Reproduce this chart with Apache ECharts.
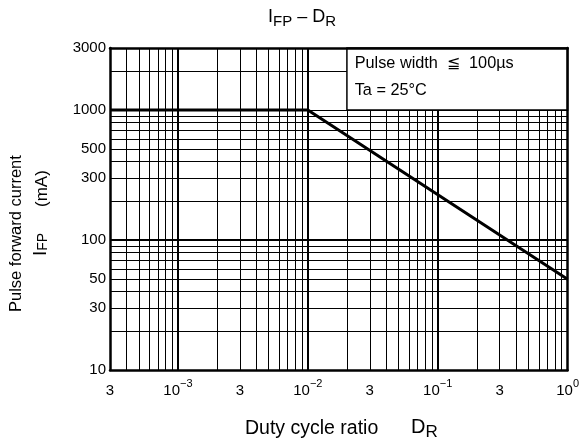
<!DOCTYPE html>
<html><head><meta charset="utf-8">
<script src="https://cdn.jsdelivr.net/npm/echarts@6/dist/echarts.min.js"></script>
<style>html,body{margin:0;padding:0;background:#fff}#c{width:582px;height:445px}</style>
</head><body><div id="c"></div>
<script>
// ---- data ----
const dutyRatio = [0.0003, 0.01, 1];
const pulseCurrent = [1000, 1000, 50];

const xTickValues = [0.0003, 0.001, 0.003, 0.01, 0.03, 0.1, 0.3, 1];
const xTickLabels = ['3', '10^-3', '3', '10^-2', '3', '10^-1', '3', '10^0'];
const yTickValues = [10, 30, 50, 100, 300, 500, 1000, 3000];
const yTickLabels = ['10', '30', '50', '100', '300', '500', '1000', '3000'];

const xGridValues = [0.0004, 0.0005, 0.0006, 0.0007, 0.0008, 0.0009,
  0.001, 0.002, 0.003, 0.004, 0.005, 0.006, 0.007, 0.008, 0.009,
  0.01, 0.02, 0.03, 0.04, 0.05, 0.06, 0.07, 0.08, 0.09,
  0.1, 0.2, 0.3, 0.4, 0.5, 0.6, 0.7, 0.8, 0.9];
const yGridValues = [20, 30, 40, 50, 60, 70, 80, 90,
  100, 200, 300, 400, 500, 600, 700, 800, 900,
  1000, 2000];
const xDecades = [0.001, 0.01, 0.1];
const yDecades = [100];

const noteBox = [0.02, 1, 1000, 3000];
const noteLines = ['Pulse width  \u2266  100\u00b5s', 'Ta = 25\u00b0C'];

// ---- chart ----
const L = Math.log10;
const FONT = '"Liberation Sans", Arial, Helvetica, sans-serif';
const xMin = L(0.0003), xMax = L(1), yMin = L(10), yMax = L(3000);

function findLabel(values, labels, v) {
  let best = 0, bd = Infinity;
  values.forEach((t, i) => { const d = Math.abs(L(t) - v); if (d < bd) { bd = d; best = i; } });
  return labels[best];
}

const chart = echarts.init(document.getElementById('c'), null, {renderer: 'canvas'});
const frameAxis = {
  type: 'value', z: 10,
  axisLine: {show: true, onZero: false, lineStyle: {color: '#000', width: 2.5}},
  axisTick: {show: false}, axisLabel: {show: false}, splitLine: {show: false}
};
const option = {
  animation: false,
  backgroundColor: '#fff',
  grid: {left: 110, right: 11, top: 48, bottom: 75},
  xAxis: [{
    type: 'value', min: xMin, max: xMax, position: 'bottom',
    axisLine: {onZero: false, lineStyle: {color: '#000', width: 2.5}},
    axisTick: {show: false, customValues: xGridValues.map(L)},
    splitLine: {show: true, lineStyle: {color: '#000', width: 1}},
    axisLabel: {
      customValues: xTickValues.map(L), margin: 8, color: '#000',
      formatter: v => {
        const t = findLabel(xTickValues, xTickLabels, v);
        if (t.indexOf('^') >= 0) {
          const p = t.split('^');
          return '{m|' + p[0] + '}{s|' + p[1].replace('-', '\u2212') + '}';
        }
        return '{m|' + t + '}';
      },
      rich: {
        m: {fontSize: 15, lineHeight: 20, verticalAlign: 'bottom', fontFamily: FONT, color: '#000'},
        s: {fontSize: 11, lineHeight: 11, verticalAlign: 'top', fontFamily: FONT, color: '#000'}
      }
    }
  }, Object.assign({min: xMin, max: xMax, position: 'top'}, frameAxis)],
  yAxis: [{
    type: 'value', min: yMin, max: yMax, position: 'left',
    axisLine: {onZero: false, lineStyle: {color: '#000', width: 2.5}},
    axisTick: {show: false, customValues: yGridValues.map(L)},
    splitLine: {show: true, lineStyle: {color: '#000', width: 1}},
    axisLabel: {
      customValues: yTickValues.map(L), margin: 4, color: '#000',
      fontSize: 15, fontFamily: FONT,
      formatter: v => findLabel(yTickValues, yTickLabels, v)
    }
  }, Object.assign({min: yMin, max: yMax, position: 'right'}, frameAxis)],
  series: [{
    type: 'line', data: [], z: 2, silent: true,
    markLine: {
      z: 1, silent: true, symbol: ['none', 'none'], label: {show: false},
      lineStyle: {color: '#000', width: 2, type: 'solid'},
      data: xDecades.map(v => ({xAxis: L(v)})).concat(yDecades.map(v => ({yAxis: L(v)})))
    }
  }, {
    type: 'line', data: [], z: 3, silent: true,
    markArea: {
      z: 3, silent: true,
      itemStyle: {color: '#fff', borderColor: '#000', borderWidth: 1.5, opacity: 1},
      label: {
        show: true, position: 'insideTopLeft', distance: 0, offset: [8.5, 3],
        formatter: noteLines.join('\n'), color: '#000', fontSize: 16.3,
        lineHeight: 27, fontFamily: FONT
      },
      data: [[{xAxis: L(noteBox[0]), yAxis: L(noteBox[2])}, {xAxis: L(noteBox[1]), yAxis: L(noteBox[3])}]]
    }
  }, {
    type: 'line', z: 4, silent: true, symbol: 'none', showSymbol: false,
    data: dutyRatio.map((d, i) => [L(d), L(pulseCurrent[i])]),
    lineStyle: {color: '#000', width: 3}
  }],
  graphic: [{
    type: 'text', x: 268, y: 19,
    style: {
      text: '{m|I}{s|FP}{m| \u2013 D}{s|R}', align: 'left', verticalAlign: 'middle', fill: '#000',
      rich: {
        m: {fontSize: 18, lineHeight: 21, verticalAlign: 'top', fontFamily: FONT, fill: '#000'},
        s: {fontSize: 15, lineHeight: 15, verticalAlign: 'bottom', fontFamily: FONT, fill: '#000'}
      }
    }
  }, {
    type: 'text', x: 245, y: 429,
    style: {text: 'Duty cycle ratio', align: 'left', verticalAlign: 'middle', fill: '#000',
      font: '19.5px ' + FONT}
  }, {
    type: 'text', x: 411, y: 429,
    style: {
      text: '{m|D}{s|R}', align: 'left', verticalAlign: 'middle', fill: '#000',
      rich: {
        m: {fontSize: 20, lineHeight: 24, verticalAlign: 'top', fontFamily: FONT, fill: '#000'},
        s: {fontSize: 17, lineHeight: 18, verticalAlign: 'bottom', fontFamily: FONT, fill: '#000'}
      }
    }
  }, {
    type: 'text', x: 16, y: 312, rotation: Math.PI / 2,
    style: {text: 'Pulse forward current', align: 'left', verticalAlign: 'middle', fill: '#000',
      font: '16.5px ' + FONT}
  }, {
    type: 'text', x: 40, y: 256, rotation: Math.PI / 2,
    style: {
      text: '{m|I}{s|FP}', align: 'left', verticalAlign: 'middle', fill: '#000',
      rich: {
        m: {fontSize: 19, lineHeight: 20, verticalAlign: 'bottom', fontFamily: FONT, fill: '#000'},
        s: {fontSize: 14, lineHeight: 14, verticalAlign: 'bottom', fontFamily: FONT, fill: '#000'}
      }
    }
  }, {
    type: 'text', x: 42.5, y: 207, rotation: Math.PI / 2,
    style: {text: '(mA)', align: 'left', verticalAlign: 'middle', fill: '#000',
      font: '17px ' + FONT}
  }]
};
chart.setOption(option);
</script>
</body></html>
